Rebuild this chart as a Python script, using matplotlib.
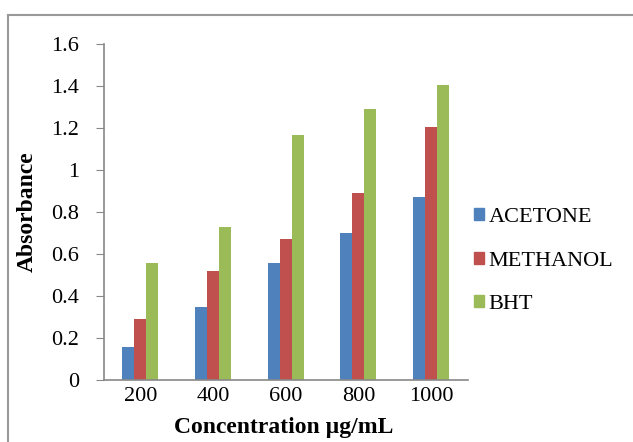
import matplotlib
matplotlib.use("Agg")
import matplotlib.pyplot as plt
import numpy as np
from matplotlib.lines import Line2D

categories = ["200", "400", "600", "800", "1000"]
acetone = [0.156, 0.346, 0.556, 0.699, 0.870]
methanol = [0.289, 0.518, 0.670, 0.889, 1.203]
bht = [0.556, 0.727, 1.165, 1.289, 1.403]
series = [("ACETONE", acetone, "#4F81BD"), ("METHANOL", methanol, "#C0504D"), ("BHT", bht, "#9BBB59")]
yticks = [0, 0.2, 0.4, 0.6, 0.8, 1, 1.2, 1.4, 1.6]
ytick_labels = ["0", "0.2", "0.4", "0.6", "0.8", "1", "1.2", "1.4", "1.6"]

plt.rcParams['font.family'] = ['Liberation Serif', 'DejaVu Serif']

W, H = 633, 442
fig = plt.figure(figsize=(W/100, H/100), dpi=100)
ax = fig.add_axes([104/W, 1-380/H, (467.5-104)/W, (380-44)/H])

x = np.arange(len(categories))
bw = 0.165
for i, (name, vals, col) in enumerate(series):
    ax.bar(x + (i-1)*bw, vals, width=bw, color=col, label=name, edgecolor='none')

fs = 16
ax.set_xlim(-0.5, len(categories)-0.5)
ax.set_ylim(0, 1.6)
ax.set_yticks(yticks)
ax.set_yticklabels(ytick_labels, fontsize=fs)
ax.set_xticks(x)
ax.set_xticklabels(categories, fontsize=fs)
ax.tick_params(axis='x', length=0, pad=5)
ax.tick_params(axis='y', length=6, color='#888888', direction='out', pad=12)
for s in ['top', 'right']:
    ax.spines[s].set_visible(False)
for s in ['left', 'bottom']:
    ax.spines[s].set_color('#888888')
    ax.spines[s].set_linewidth(1.2)

fig.text(27/W, 1-212/H, "Absorbance", rotation=90, fontsize=fs+1, fontweight='bold', ha='center', va='center')
fig.text(284/W, 1-428/H, "Concentration \u00b5g/mL", fontsize=fs+1, fontweight='bold', ha='center', va='center')

handles = [plt.Rectangle((0, 0), 1, 1, color=c) for _, _, c in series]
fig.legend(handles, [n for n, _, _ in series], loc='center left', bbox_to_anchor=(465/W, 1-261/H),
           frameon=False, fontsize=fs, handlelength=0.45, handleheight=0.45, handletextpad=0.2,
           labelspacing=1.1, borderaxespad=0)

# outer chart frame
fig.add_artist(Line2D([8/W, 8/W], [0, 1-15/H], transform=fig.transFigure, color='#999999', lw=1.5))
fig.add_artist(Line2D([8/W, 1], [1-15/H, 1-15/H], transform=fig.transFigure, color='#999999', lw=1.5))

fig.savefig("out.png", dpi=100)
